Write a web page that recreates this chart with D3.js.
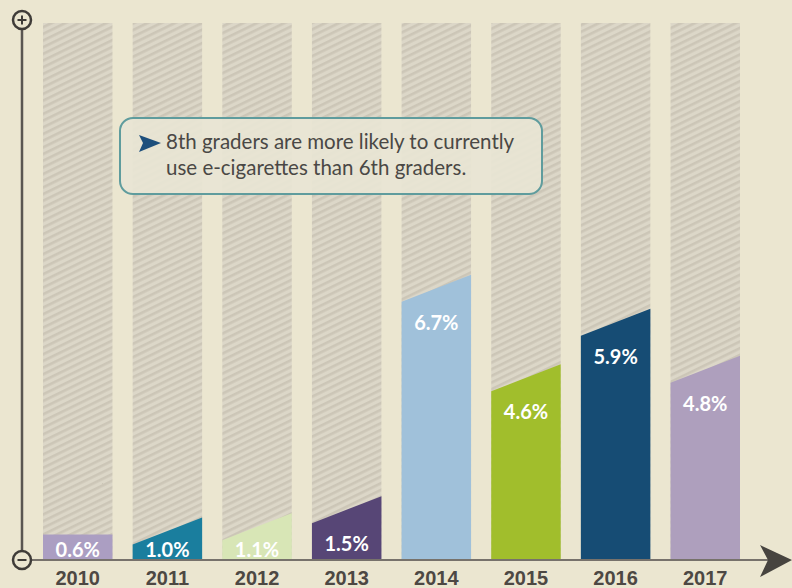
<!DOCTYPE html>
<html>
<head>
<meta charset="utf-8">
<script src="https://cdn.jsdelivr.net/npm/d3@7"></script>
<style>
  body { margin: 0; background: #ebe6d0; }
  svg { display: block; }
</style>
</head>
<body>
<div id="chart"></div>
<script>
const years = ['2010', '2011', '2012', '2013', '2014', '2015', '2016', '2017'];
const values = [0.6, 1.0, 1.1, 1.5, 6.7, 4.6, 5.9, 4.8];
const valueLabels = ['0.6%', '1.0%', '1.1%', '1.5%', '6.7%', '4.6%', '5.9%', '4.8%'];
const barColors = ['#ab9ec2', '#1a7e9e', '#d8e6b6', '#574676', '#a0c1da', '#a1be2c', '#164c74', '#ae9fbd'];
const calloutLines = ['8th graders are more likely to currently', 'use e-cigarettes than 6th graders.'];

const width = 792;
const height = 588;
const baseY = 560;
const slant = 27;

const svg = d3.select('#chart')
  .append('svg')
    .attr('width', width)
    .attr('height', height);

// hatch pattern for the empty columns
const defs = svg.append('defs');
const pat = defs.append('pattern')
  .attr('id', 'hatch')
  .attr('patternUnits', 'userSpaceOnUse')
  .attr('width', 6)
  .attr('height', 6)
  .attr('patternTransform', 'rotate(-26)');
pat.append('rect').attr('width', 6).attr('height', 6).attr('fill', '#dcd7c8');
pat.append('rect').attr('y', 0).attr('width', 6).attr('height', 2.6).attr('fill', '#ccc6b7');

const x = d3.scaleBand()
  .domain(years)
  .range([43, 740])
  .paddingInner(0.225)
  .paddingOuter(0);

const y = d3.scaleLinear()
  .domain([0, 7])
  .range([baseY, 262]);

// background columns
svg.append('g')
  .selectAll('rect')
  .data(years)
  .join('rect')
    .attr('x', d => x(d))
    .attr('y', 23)
    .attr('width', x.bandwidth())
    .attr('height', baseY - 23)
    .attr('fill', 'url(#hatch)');

// coloured bars with slanted tops (first one is flat)
const bars = years.map((yr, i) => ({ yr, v: values[i], label: valueLabels[i], color: barColors[i], i }));

svg.append('g')
  .selectAll('path')
  .data(bars)
  .join('path')
    .attr('fill', d => d.color)
    .attr('d', d => {
      const x0 = x(d.yr);
      const x1 = x0 + x.bandwidth();
      const yr = y(d.v);
      const yl = d.i === 0 ? yr : Math.min(yr + slant, baseY);
      return `M${x0},${baseY}L${x0},${yl}L${x1},${yr}L${x1},${baseY}Z`;
    });

// value labels
svg.append('g')
  .selectAll('text')
  .data(bars)
  .join('text')
    .attr('x', d => x(d.yr) + x.bandwidth() / 2)
    .attr('y', d => Math.min(y(d.v) + 55, baseY - 3))
    .attr('text-anchor', 'middle')
    .attr('fill', '#ffffff')
    .attr('font-family', 'Lato, sans-serif')
    .attr('font-weight', 700)
    .attr('font-size', 20)
    .text(d => d.label);

// year labels
svg.append('g')
  .selectAll('text')
  .data(years)
  .join('text')
    .attr('x', d => x(d) + x.bandwidth() / 2)
    .attr('y', 585)
    .attr('text-anchor', 'middle')
    .attr('fill', '#4d4843')
    .attr('font-family', '"Liberation Sans Narrow", sans-serif')
    .attr('font-weight', 700)
    .attr('font-size', 20)
    .text(d => d);

// axes
const axis = svg.append('g');
axis.append('line')
  .attr('x1', 22).attr('x2', 22)
  .attr('y1', 29).attr('y2', 551)
  .attr('stroke', '#5a5651').attr('stroke-width', 2.5);
axis.append('line')
  .attr('x1', 31).attr('x2', 772)
  .attr('y1', baseY).attr('y2', baseY)
  .attr('stroke', '#77726b').attr('stroke-width', 2);
axis.append('path')
  .attr('d', 'M792,560L760,545L768,560L760,577Z')
  .attr('fill', '#47443f');

[[20, '+'], [baseY, '-']].forEach(([cy, sign]) => {
  axis.append('circle')
    .attr('cx', 22).attr('cy', cy).attr('r', 9)
    .attr('fill', '#ebe6d0')
    .attr('stroke', '#3f3c38').attr('stroke-width', 2.5);
  axis.append('line')
    .attr('x1', 17.5).attr('x2', 26.5)
    .attr('y1', cy).attr('y2', cy)
    .attr('stroke', '#3f3c38').attr('stroke-width', 2);
  if (sign === '+') {
    axis.append('line')
      .attr('x1', 22).attr('x2', 22)
      .attr('y1', cy - 4.5).attr('y2', cy + 4.5)
      .attr('stroke', '#3f3c38').attr('stroke-width', 2);
  }
});

// callout box
const callout = svg.append('g');
callout.append('rect')
  .attr('x', 120).attr('y', 118)
  .attr('width', 422).attr('height', 76)
  .attr('rx', 13)
  .attr('fill', '#e8e5d4').attr('fill-opacity', 0.92)
  .attr('stroke', '#5f9c9d').attr('stroke-width', 2);
callout.append('path')
  .attr('d', 'M139,135L161,143L139,152L143,143Z')
  .attr('fill', '#1d4f7c');
callout.append('g')
  .selectAll('text')
  .data(calloutLines)
  .join('text')
    .attr('x', 166)
    .attr('y', (d, i) => 149 + i * 26)
    .attr('fill', '#4a4845')
    .attr('font-family', 'Lato, sans-serif')
    .attr('font-size', 20.5)
    .text(d => d);
</script>
</body>
</html>
